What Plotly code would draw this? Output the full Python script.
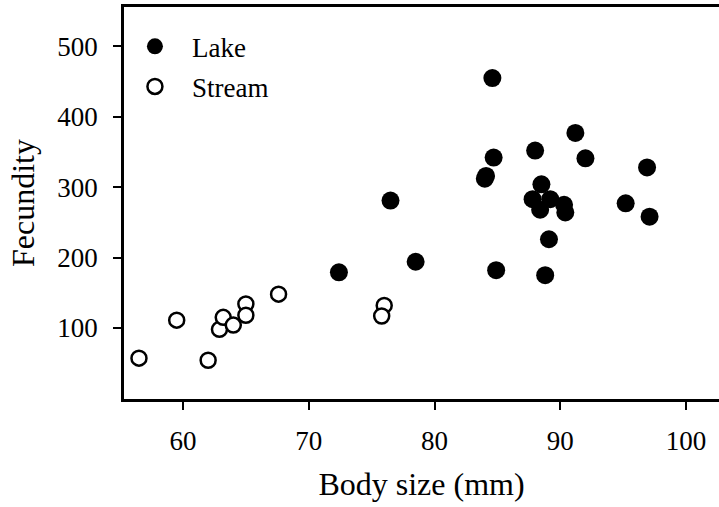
import plotly.graph_objects as go

lake_x = [84.6, 91.2, 88.0, 84.7, 92.0, 96.9, 84.0, 84.1, 88.5, 87.8, 89.2, 88.4,
          90.3, 90.4, 89.1, 95.2, 97.1, 84.9, 88.8, 78.5, 72.4, 76.5]
lake_y = [455, 377, 352, 342, 341, 328, 312, 316, 304, 283, 283, 268,
          275, 264, 226, 277, 258, 182, 175, 194, 179, 281]

stream_x = [56.5, 59.5, 62.0, 62.9, 63.2, 64.0, 65.0, 65.0, 67.6, 76.0, 75.8]
stream_y = [57, 111, 54, 98, 115, 104, 134, 118, 148, 132, 117]

x_ticks = [60, 70, 80, 90, 100]
y_ticks = [100, 200, 300, 400, 500]

FONT = "Liberation Serif"

fig = go.Figure()
fig.add_trace(go.Scatter(
    x=lake_x, y=lake_y, mode="markers", name="Lake", legendgroup="a",
    marker=dict(size=18, color="black", line=dict(width=0)),
))
fig.add_trace(go.Scatter(
    x=stream_x, y=stream_y, mode="markers", name="Stream", legendgroup="b",
    marker=dict(size=15, color="white", line=dict(width=2.5, color="black")),
))

fig.update_layout(
    width=719, height=507,
    margin=dict(l=124, r=0, t=7, b=108),
    paper_bgcolor="white", plot_bgcolor="white",
    font=dict(family=FONT, size=27, color="black"),
    showlegend=True,
    legend=dict(x=-0.0102, y=0.961, xanchor="left", yanchor="top",
                bgcolor="rgba(0,0,0,0)", borderwidth=0, itemwidth=64,
                tracegroupgap=2, font=dict(size=27, family=FONT)),
)
fig.update_xaxes(
    range=[55.31, 102.62], tickvals=x_ticks, ticktext=[str(v) for v in x_ticks],
    showgrid=False, zeroline=False,
    showline=True, linecolor="black", linewidth=2.5, mirror=True,
    ticks="outside", ticklen=8, tickwidth=2, tickcolor="black",
    ticklabelstandoff=8,
    title=dict(text="Body size (mm)", standoff=18),
)
fig.update_yaxes(
    range=[-1, 556], tickvals=y_ticks, ticktext=[str(v) for v in y_ticks],
    showgrid=False, zeroline=False,
    showline=True, linecolor="black", linewidth=2.5, mirror=False,
    ticks="outside", ticklen=8, tickwidth=2, tickcolor="black",
    ticklabelstandoff=10,
    title=dict(text="Fecundity", standoff=14),
)

fig.write_html("out.html")
